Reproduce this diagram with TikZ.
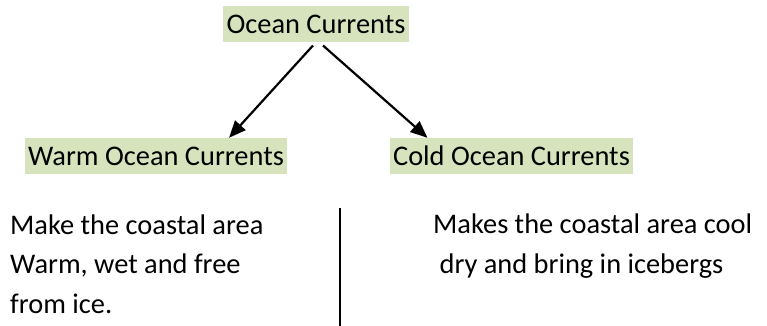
\documentclass[tikz,border=0pt]{standalone}
\usepackage{fontspec}
\setmainfont{Carlito}
\usepackage{xcolor}
\usepackage{tikz}
\usetikzlibrary{positioning,calc,arrows.meta}

\definecolor{hlgreen}{HTML}{D6E3BC}
\tikzset{
    hlbox/.style={fill=hlgreen, inner xsep=3.5pt, inner ysep=0pt, text height=27pt, text depth=9pt, anchor=base},
    bodytext/.style={align=left, inner sep=0pt, anchor=base west},
    arr/.style={-{Triangle[length=17pt,width=14pt]}, line width=2.2pt},
}

\begin{document}
\begin{tikzpicture}[x=1pt,y=-1pt, font=\fontsize{28.4}{39.5}\selectfont]
    \useasboundingbox (0,0) rectangle (767,326);

    \node[hlbox] (ocean) at (316,33.3) {Ocean Currents};
    \node[hlbox] (warm) at (156,165) {Warm Ocean Currents};
    \node[hlbox] (cold) at (511.5,165) {Cold Ocean Currents};

    \draw[arr] ([xshift=-3pt,yshift=-3pt]ocean.south) -- ([xshift=73pt]warm.north);
    \draw[arr] ([xshift=7pt,yshift=-3pt]ocean.south) -- ([xshift=-84pt]cold.north);

    % base anchor sits on the last line
    \node[bodytext] (warmtext) at (10,313) {Make the coastal area\\Warm, wet and free\\from ice.};
    \node[bodytext] (coldtext) at (433,273) {Makes the coastal area cool\\\ dry and bring in icebergs};

    % divider between the two columns
    \coordinate (divtop) at (340,208);
    \coordinate (divbot) at (340,326);
    \draw[line width=2pt] (divtop) -- (divbot);
\end{tikzpicture}
\end{document}
